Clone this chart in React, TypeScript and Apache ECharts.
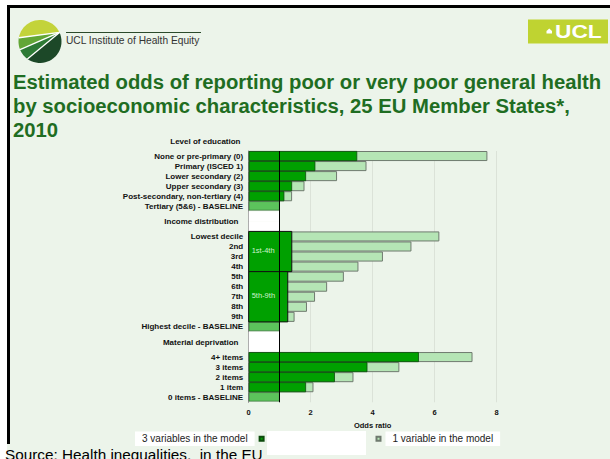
import React, { useEffect, useRef } from "react";
import * as echarts from "echarts";

const rows = [
  "None or pre-primary (0)",
  "Primary (ISCED 1)",
  "Lower secondary (2)",
  "Upper secondary (3)",
  "Post-secondary, non-tertiary (4)",
  "Tertiary (5&6) - BASELINE",
  " ",
  "  ",
  "Lowest decile",
  "2nd",
  "3rd",
  "4th",
  "5th",
  "6th",
  "7th",
  "8th",
  "9th",
  "Highest decile - BASELINE",
  "   ",
  "    ",
  "4+ items",
  "3 items",
  "2 items",
  "1 item",
  "0 items - BASELINE",
];

const oneVariable = [7.7, 3.8, 2.85, 1.8, 1.4, null, null, null, 6.15, 5.25, 4.33, 3.54, 3.07, 2.53, 2.14, 1.88, 1.48, null, null, null, 7.22, 4.86, 3.38, 2.09, null];
const threeVariables = [3.5, 2.15, 1.85, 1.4, 1.15, null, null, null, null, null, null, null, null, null, null, null, null, null, null, null, 5.49, 3.83, 2.78, 1.85, null];
const baselineValues = [null, null, null, null, null, 1, null, null, null, null, null, null, null, null, null, null, null, 1, null, null, null, null, null, null, 1];
const gapValues = [null, null, null, null, null, null, 1, 1, null, null, null, null, null, null, null, null, null, null, 1, 1, null, null, null, null, null];
// income groups in the 3-variable model: [odds ratio, first row, last row, label]
const incomeGroups: [number, number, number, string][] = [
  [1.39, 8, 11, "1st-4th"],
  [1.26, 12, 16, "5th-9th"],
];
const xTicks = { min: 0, max: 8, interval: 2 };
const headers = [
  { text: "Level of education", right: 240.5, y: 141 },
  { text: "Income distribution", right: 238.5, y: 221.5 },
  { text: "Material deprivation", right: 238.5, y: 342.5 },
];

const FONT = "'Liberation Sans', Arial, sans-serif";
const BG = "#ecf4ea";
const DARK = "#00a000";
const LIGHT = "#b5e5b5";
const BASE = "#5cc35c";

function ellipsePts(cx: number, cy: number, rx: number, ry: number, a0: number, a1: number, f: number[]) {
  const pts: number[][] = [f];
  const n = 24;
  for (let i = 0; i <= n; i++) {
    const a = ((a0 + (a1 - a0) * (i / n)) * Math.PI) / 180;
    pts.push([cx + rx * Math.cos(a), cy + ry * Math.sin(a)]);
  }
  return pts;
}

export default function App() {
  const ref = useRef<HTMLDivElement>(null);
  useEffect(() => {
    if (!ref.current) return;
    const chart = echarts.init(ref.current, undefined, { renderer: "svg" });
    const cx = 40, cy = 41.5, rx = 21.5, ry = 21.5;
    const fa = -25;
    const F = [cx + rx * Math.cos((fa * Math.PI) / 180), cy + ry * Math.sin((fa * Math.PI) / 180)];
    const edge = (a: number) => [cx + rx * Math.cos((a * Math.PI) / 180), cy + ry * Math.sin((a * Math.PI) / 180)];
    const logo: any[] = [
      { type: "polygon", z: 50, shape: { points: ellipsePts(cx, cy, rx, ry, 335, 190, F) }, style: { fill: "#c3d33a" } },
      { type: "polygon", z: 50, shape: { points: ellipsePts(cx, cy, rx, ry, 190, 158, F) }, style: { fill: "#62a636" } },
      { type: "polygon", z: 50, shape: { points: ellipsePts(cx, cy, rx, ry, 158, 126, F) }, style: { fill: "#2d7a35" } },
      { type: "polygon", z: 50, shape: { points: ellipsePts(cx, cy, rx, ry, 126, -25, F) }, style: { fill: "#1c4828" } },
      ...[190, 158, 126].map((a) => ({
        type: "line", z: 51,
        shape: { x1: F[0], y1: F[1], x2: edge(a)[0], y2: edge(a)[1] },
        style: { stroke: "#ffffff", lineWidth: 1.3 },
      })),
    ];

    const option: any = {
      animation: false,
      backgroundColor: BG,
      title: {
        text: "Estimated odds of reporting poor or very poor general health\nby socioeconomic characteristics, 25 EU Member States*,\n2010",
        left: 13,
        top: 70,
        padding: 0,
        textStyle: { fontFamily: FONT, fontSize: 20.3, fontWeight: "bold", lineHeight: 24, color: "#1f6d22" },
      },
      grid: { left: 248.7, right: 113.3, top: 151, bottom: 56.7 },
      xAxis: {
        type: "value",
        min: xTicks.min,
        max: xTicks.max,
        interval: xTicks.interval,
        name: "Odds ratio",
        nameLocation: "middle",
        nameGap: 18,
        nameTextStyle: { fontFamily: FONT, fontSize: 7.5, fontWeight: "bold", color: "#111" },
        axisLine: { show: false },
        axisTick: { show: false },
        axisLabel: { fontFamily: FONT, fontSize: 7.5, fontWeight: "bold", color: "#111", margin: 6 },
        splitLine: { show: true, lineStyle: { color: "#dbe2d8", width: 1 } },
      },
      yAxis: {
        type: "category",
        data: rows,
        inverse: true,
        axisLine: { show: true, lineStyle: { color: "#8a8a8a", width: 1 } },
        axisTick: { show: false },
        axisLabel: { interval: 0, fontFamily: FONT, fontSize: 8, fontWeight: "bold", color: "#111", margin: 5.5 },
        splitLine: { show: false },
      },
      legend: [
        {
          data: ["3 variables in the model"],
          left: 135,
          top: 431.5,
          padding: 0,
          align: "right",
          icon: "rect",
          itemWidth: 4,
          itemHeight: 4,
          selectedMode: false,
          textStyle: { fontFamily: FONT, fontSize: 10, color: "#222", backgroundColor: "#ffffff", padding: [2.5, 7, 2, 7] },
        },
        {
          data: ["1 variable in the model"],
          left: 375.5,
          top: 431.5,
          padding: 0,
          align: "left",
          icon: "rect",
          itemWidth: 4,
          itemHeight: 4,
          selectedMode: false,
          textStyle: { fontFamily: FONT, fontSize: 10, color: "#222", backgroundColor: "#ffffff", padding: [2.5, 7, 2, 7] },
        },
      ],
      series: [
        {
          type: "bar",
          name: "gap",
          data: gapValues,
          barWidth: "100%",
          barGap: "-100%",
          barCategoryGap: 0,
          itemStyle: { color: "#ffffff" },
          z: 2,
        },
        {
          type: "bar",
          name: "baseline",
          data: baselineValues,
          barWidth: "92%",
          barGap: "-100%",
          itemStyle: { color: BASE, borderColor: "#2f5f2f", borderWidth: 0.6 },
          z: 2,
        },
        {
          type: "bar",
          name: "1 variable in the model",
          data: oneVariable,
          barWidth: "100%",
          barGap: "-100%",
          itemStyle: { color: LIGHT, borderColor: "#6f7a6f", borderWidth: 1 },
          z: 2,
        },
        {
          type: "bar",
          name: "3 variables in the model",
          data: threeVariables,
          barWidth: "100%",
          barGap: "-100%",
          itemStyle: { color: DARK, borderColor: "#0c4a0c", borderWidth: 0.8 },
          z: 3,
        },
        {
          type: "custom",
          name: "income groups",
          data: incomeGroups,
          dimensions: ["odds", "from", "to", "label"],
          encode: { x: 0, y: 1 },
          z: 4,
          renderItem: (params: any, api: any) => {
            const v = api.value(0);
            const from = api.value(1);
            const to = api.value(2);
            const label = incomeGroups[params.dataIndex][3];
            const p0 = api.coord([0, from]);
            const p1 = api.coord([v, to]);
            const band = api.size([0, 1])[1];
            const y0 = p0[1] - band / 2;
            const y1 = p1[1] + band / 2;
            return {
              type: "group",
              children: [
                {
                  type: "rect",
                  shape: { x: p0[0], y: y0, width: p1[0] - p0[0], height: y1 - y0 },
                  style: { fill: DARK, stroke: "#111", lineWidth: 1 },
                },
                {
                  type: "text",
                  x: p0[0] + 3,
                  y: (y0 + y1) / 2 - 1.5,
                  style: {
                    text: label,
                    fill: "#cdf2cd",
                    fontFamily: FONT,
                    fontSize: 7.5,
                    verticalAlign: "middle",
                    align: "left",
                  },
                },
              ],
            };
          },
        },
        {
          type: "line",
          name: "odds1",
          data: [],
          z: 6,
          markLine: {
            silent: true,
            symbol: ["none", "none"],
            label: { show: false },
            lineStyle: { color: "#000", width: 1, type: "solid" },
            data: [{ xAxis: 1 }],
          },
        },
      ],
      graphic: [
        { type: "rect", z: 40, shape: { x: 0, y: 0, width: 610, height: 5 }, style: { fill: "#ffffff" } },
        { type: "rect", z: 40, shape: { x: 0, y: 0, width: 7, height: 459 }, style: { fill: "#ffffff" } },
        { type: "line", z: 41, shape: { x1: 7, y1: 6.5, x2: 610, y2: 6.5 }, style: { stroke: "#000", lineWidth: 3 } },
        { type: "line", z: 41, shape: { x1: 8.5, y1: 5, x2: 8.5, y2: 444 }, style: { stroke: "#000", lineWidth: 3 } },
        ...logo,
        { type: "line", z: 50, shape: { x1: 66, y1: 32.5, x2: 201, y2: 32.5 }, style: { stroke: "#2b4a2b", lineWidth: 1 } },
        {
          type: "text", z: 50, x: 66, y: 40,
          style: { text: "UCL Institute of Health Equity", fill: "#333", fontFamily: FONT, fontSize: 10.2, verticalAlign: "middle" },
        },
        { type: "rect", z: 50, shape: { x: 528, y: 19.5, width: 80, height: 24 }, style: { fill: "#bfd331" } },
        { type: "polygon", z: 51, shape: { points: [[546.5, 33.5], [552, 33.5], [552, 31], [549.25, 28.5], [546.5, 31]] }, style: { fill: "#fff" } },
        {
          type: "text", z: 51, x: 555, y: 32, scaleX: 1.3,
          style: { text: "UCL", fill: "#fff", fontFamily: FONT, fontSize: 17.5, fontWeight: "bold", verticalAlign: "middle" },
        },
        ...headers.map((h) => ({
          type: "text", z: 50, x: h.right, y: h.y,
          style: { text: h.text, fill: "#111", fontFamily: FONT, fontSize: 8, fontWeight: "bold", align: "right", verticalAlign: "middle" },
        })),
        {
          type: "text", z: 60, x: 5, y: 447,
          style: { text: "Source: Health inequalities,  in the EU", fill: "#000", fontFamily: FONT, fontSize: 15.3, verticalAlign: "top" },
        },
        { type: "rect", z: 61, shape: { x: 267, y: 431, width: 99, height: 24 }, style: { fill: "#ffffff" } },
      ],
    };
    chart.setOption(option);
    return () => chart.dispose();
  }, []);
  return <div ref={ref} style={{ position: "fixed", left: 0, top: 0, width: 610, height: 459 }} />;
}
